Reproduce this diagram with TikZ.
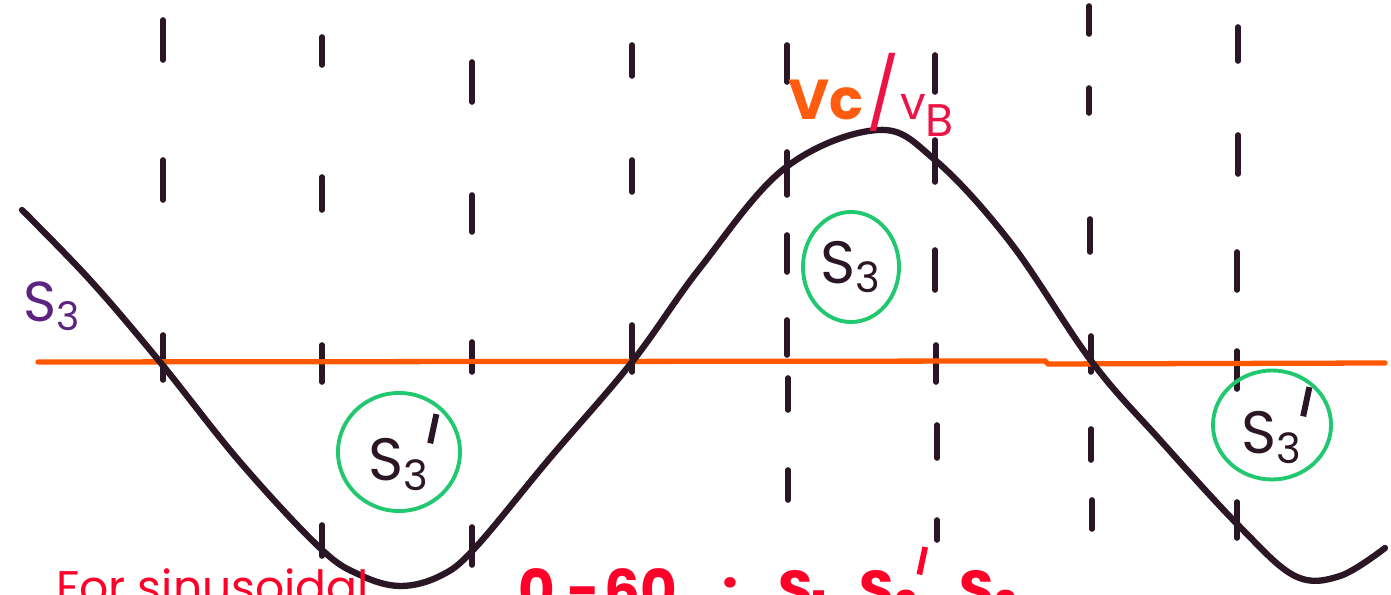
\documentclass[tikz,border=0pt]{standalone}
\usepackage{fontspec}
\setmainfont{Poppins}
\usetikzlibrary{shapes.geometric}
\definecolor{wavedark}{RGB}{42,22,36}
\definecolor{axisorange}{RGB}{255,88,0}
\definecolor{ringgreen}{RGB}{34,200,112}
\definecolor{labelpurple}{RGB}{92,36,128}
\definecolor{vcorange}{RGB}{255,92,16}
\definecolor{vbred}{RGB}{236,20,70}
\definecolor{notered}{RGB}{255,0,40}
\newcommand{\sthree}{S\textsubscript{3}}
\newcommand{\sthreep}{S\rlap{\raisebox{1.15ex}{\kern0.4em\rotatebox{-12}{\rule{0.1em}{0.5em}}}}\textsubscript{3}}

\begin{document}
\begin{tikzpicture}[x=0.01cm,y=-0.01cm,line cap=round,
  tick/.style={wavedark,line width=1.6pt},
  ring/.style={draw=ringgreen,line width=1.1pt,ellipse,inner sep=0pt,font=\fontsize{17}{17}\selectfont\mdseries,text=wavedark}]
  \useasboundingbox (0,0) rectangle (1391,595);
  \clip (0,0) rectangle (1391,595);
  % dashed guide lines
  \foreach \x/\ya/\yb in {163/20/60,163/160/200,163/335/380,
      322/37/65,322/177/210,322/345/382,322/525/556,
      472/62/102,472/195/232,472/342/372,472/527/565,
      632/45/76,632/160/192,632/325/372,
      787/45/82,787/152/195,787/235/272,787/320/355,788/378/410,788/470/500,
      935/55/92,935/140/182,935/250/290,936/345/382,937/425/458,937/520/540,
      1089/6/34,1089/88/113,1090/219/252,1091/336/372,1091/429/460,1092/500/529,
      1238/27/61,1238/135/174,1237/252/290,1237/351/389,1237/502/538}
    \draw[tick] (\x,\ya) -- (\x,\yb);
  % zero line
  \draw[axisorange,line width=1.5pt] (38,362) -- (1045,361) -- (1048,364) -- (1385,363);
  % the wave
  \draw[wavedark,line width=1.8pt] plot[smooth,tension=0.6] coordinates {
    (22,210) (90,280) (160,362) (240,462) (320,548) (360,575) (400,586) (440,576) (475,548)
    (550,458) (632,362) (700,268) (785,168) (878,130) (935,160) (1010,242)
    (1092,362) (1160,440) (1240,527) (1295,576) (1340,576) (1385,548)};
  % circled switch labels
  \node[ring,minimum width=1.22cm,minimum height=1.18cm] (lowA) at (399,452) {\sthreep};
  \node[ring,minimum width=0.96cm,minimum height=1.10cm] (high) at (851,267) {\sthree};
  \node[ring,minimum width=1.18cm,minimum height=1.06cm] (lowB) at (1272,425) {\sthreep};
  % other labels
  \node[labelpurple,font=\fontsize{16}{16}\selectfont] (s3left) at (52,306) {\sthree};
  \node[font=\fontsize{16}{16}\selectfont] (vcvb) at (872,95)
    {\textcolor{vcorange}{\bfseries Vc}\hspace{0.03cm}\textcolor{vbred}{\fontsize{20}{20}\selectfont/}\textcolor{vbred}{\fontsize{13}{13}\selectfont v\textsubscript{\fontsize{13}{13}\selectfont B}}};
  \node[notered,anchor=north west,font=\fontsize{13}{13}\selectfont] (note) at (44,556) {For sinusoidal};
  \node[notered,anchor=north west,font=\fontsize{16}{16}\selectfont\bfseries] (range) at (506,534)
    {0\hspace{0.12cm}-\hspace{0.05cm}60\hspace{0.45cm}:\hspace{0.4cm}S\textsubscript{1}\hspace{0.3cm}\sthreep\hspace{0.4cm}S\textsubscript{2}};
\end{tikzpicture}
\end{document}
